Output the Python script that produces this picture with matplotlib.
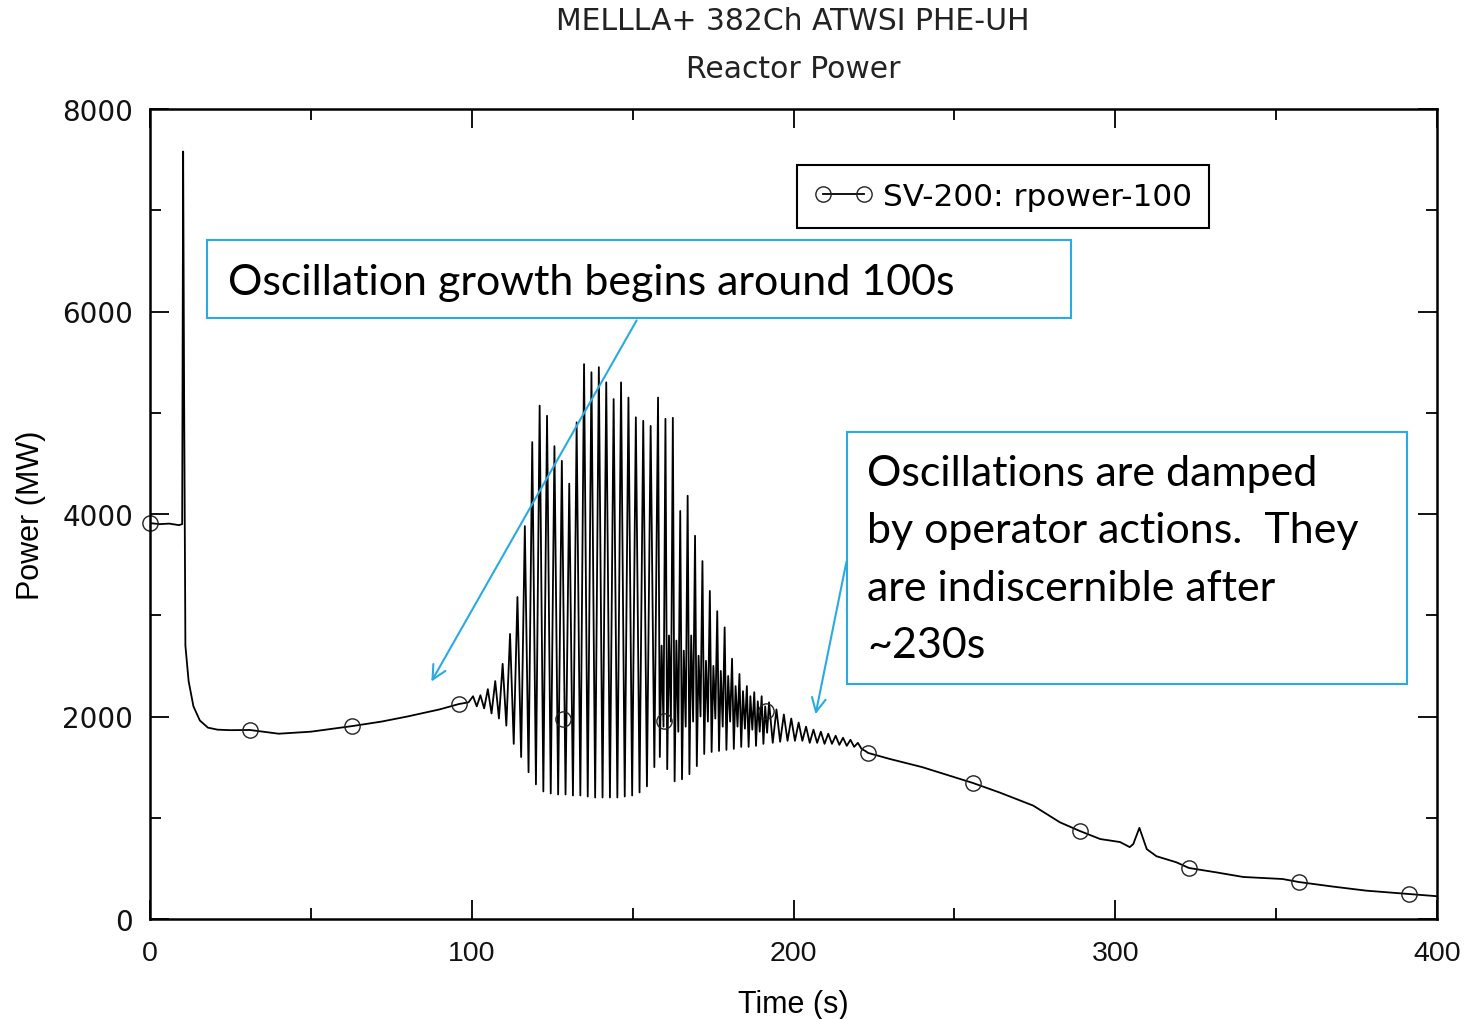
import numpy as np
import matplotlib
matplotlib.use("Agg")
import matplotlib.pyplot as plt
from matplotlib.lines import Line2D
from matplotlib.patches import Rectangle, FancyArrowPatch

# smooth parts of the power trace (time s, power MW)
base_t_pre = [0, 3, 6, 9, 10.0, 10.3, 10.6, 11.0, 12.0, 13.5, 15.5, 18.0, 21.0, 25.0, 31.0,
              40.0, 50.0, 63.0, 72.0, 80.0, 90.0, 96.0, 99.0]
base_p_pre = [3910, 3900, 3905, 3890, 3900, 7580, 5200, 2700, 2350, 2100, 1960, 1890, 1870,
              1865, 1867, 1830, 1850, 1906, 1950, 2000, 2070, 2123, 2140]

# oscillation: peak time, peak value, trough value that follows
peak_t = [100.4, 102.7, 105.0, 107.3, 109.6, 111.9, 114.2, 116.5, 118.8, 121.1, 123.4, 125.7,
          128.0, 130.3, 132.6, 134.9, 137.2, 139.5, 141.8, 144.1, 146.4, 148.7, 151.0, 153.3,
          155.6, 157.9, 160.2, 162.5, 164.8, 167.1, 169.4, 171.7, 174.0, 176.3, 178.6, 180.9,
          183.2, 185.5, 187.8, 190.1, 192.4, 194.7, 197.0, 199.3, 201.6, 203.9, 206.2, 208.5,
          210.8, 213.1, 215.4, 217.7, 220.0]
peak_p = [2200, 2210, 2270, 2350, 2520, 2815, 3180, 3880, 4710, 5070, 4970, 4670,
          4525, 4300, 4905, 5480, 5400, 5450, 5300, 5135, 5300, 5150, 4955, 4920,
          4870, 5150, 4940, 4950, 4030, 4180, 3785, 3535, 3240, 3040, 2880, 2570,
          2420, 2300, 2240, 2200, 2140, 2070, 2020, 1980, 1940, 1900, 1870, 1850,
          1830, 1810, 1790, 1770, 1740]
trough_p = [2100, 2080, 2030, 1980, 1910, 1730, 1600, 1450, 1330, 1260, 1240, 1230,
            1230, 1220, 1220, 1210, 1200, 1200, 1200, 1200, 1210, 1220, 1250, 1310,
            1500, 1600, 1480, 1360, 1380, 1430, 1510, 1630, 1650, 1660, 1670, 1680,
            1700, 1700, 1710, 1730, 1740, 1750, 1760, 1760, 1760, 1740, 1740, 1730,
            1730, 1720, 1710, 1700, 1680]
# secondary (smaller) peaks in the dark band, None where absent
mid_p = [None] * 25 + [2700, 2800, 2750, 2650, 2800, 2600, 2550, 2500, 2450, 2400, 2300,
                       2250, 2200, 2150, 2100] + [None] * 13
mid_trough_p = [None] * 25 + [1900, 1950, 1850, 1900, 1950, 2000, 1950, 1980, 1900, 1950,
                              1900, 1880, 1870, 1850, 1840] + [None] * 13

base_t_post = [222.3, 223.2, 230, 240, 255.8, 264, 274.5, 282.8, 289.0, 295.3, 301.5, 304.5,
               305.6, 307.5, 309.8, 312.8, 319.0, 322.9, 331.5, 339.8, 352.0, 357.1, 367.7,
               378.0, 391.3, 398.0, 400.0]
base_p_post = [1660, 1640, 1580, 1500, 1343, 1250, 1120, 955, 869, 790, 760, 710,
               740, 900, 690, 620, 560, 504, 460, 415, 395, 365, 320,
               280, 247, 230, 225]

marker_t = [0, 31.1, 62.8, 96.0, 128.3, 159.7, 191.5, 223.2, 255.8, 289.0, 322.9, 357.1, 391.3]
marker_p = [3911, 1867, 1906, 2123, 1975, 1956, 2054, 1640, 1343, 869, 504, 365, 247]

t = list(base_t_pre)
p = list(base_p_pre)
for i in range(len(peak_t)):
    t.append(peak_t[i])
    p.append(peak_p[i])
    if mid_p[i] is None:
        t.append(peak_t[i] + 1.15)
        p.append(trough_p[i])
    else:
        t += [peak_t[i] + 0.55, peak_t[i] + 1.1, peak_t[i] + 1.7]
        p += [trough_p[i], mid_p[i], mid_trough_p[i]]
t += base_t_post
p += base_p_post

fig = plt.figure(figsize=(14.72, 10.20), dpi=100)
ax = fig.add_axes([150 / 1472, 1 - 920 / 1020, 1287 / 1472, 810 / 1020])

ax.plot(t, p, color="black", linewidth=1.3)
ax.plot(marker_t, marker_p, linestyle="none", marker="o", markersize=11,
        markerfacecolor="none", markeredgecolor="#222222", markeredgewidth=1.0, clip_on=False)

ax.set_xlim(0, 400)
ax.set_ylim(0, 8000)
ax.set_xticks([0, 100, 200, 300, 400])
ax.set_xticks([50, 150, 250, 350], minor=True)
ax.set_yticks([0, 2000, 4000, 6000, 8000])
ax.set_yticks([1000, 3000, 5000, 7000], minor=True)
ax.tick_params(which="both", direction="in", top=True, right=True, width=1.4, colors="#111111")
ax.tick_params(which="major", length=14)
ax.tick_params(which="minor", length=8)
ax.tick_params(axis="y", labelsize=20, pad=12)
ax.tick_params(axis="x", labelsize=20.5, pad=15)
for s in ax.spines.values():
    s.set_linewidth(1.8)
for lab in ax.get_yticklabels():
    lab.set_fontfamily("DejaVu Sans")
for lab in ax.get_xticklabels():
    lab.set_fontfamily("Liberation Sans")

ax.set_xlabel("Time (s)", fontsize=22, family="Liberation Sans", labelpad=17)
ax.set_ylabel("Power (MW)", fontsize=22, family="Liberation Sans", labelpad=12)

fig.text(793 / 1472, 1 - 22 / 1020, "MELLLA+ 382Ch ATWSI PHE-UH", ha="center", va="center",
         fontsize=21.5, color="#222222")
fig.text(793 / 1472, 1 - 69 / 1020, "Reactor Power", ha="center", va="center",
         fontsize=21.5, color="#222222")

h = Line2D([], [], color="black", linewidth=1.3, marker="o", markersize=11,
           markerfacecolor="none", markeredgecolor="#222222")
leg = ax.legend([h], ["SV-200: rpower-100"], loc="upper right",
                bbox_to_anchor=((1209 - 150) / 1287, (920 - 166) / 810), numpoints=2,
                fontsize=22.5, fancybox=False, framealpha=1, handlelength=1.9,
                borderpad=0.55, handletextpad=0.3, borderaxespad=0)
leg.get_frame().set_edgecolor("black")
leg.get_frame().set_linewidth(1.5)

blue = "#29ABE2"
fig.patches.append(Rectangle((207 / 1472, 1 - 319 / 1020), 864 / 1472, 78 / 1020,
                             transform=fig.transFigure, facecolor="white", edgecolor=blue,
                             linewidth=1.5, zorder=5))
fig.text(228 / 1472, 1 - 283 / 1020, "Oscillation growth begins around 100s", fontsize=31,
         family="Lato", ha="left", va="center", zorder=6)

fig.patches.append(Rectangle((847 / 1472, 1 - 685 / 1020), 560 / 1472, 252 / 1020,
                             transform=fig.transFigure, facecolor="white", edgecolor=blue,
                             linewidth=1.5, zorder=5))
box_lines = ["Oscillations are damped", "by operator actions.  They",
             "are indiscernible after", "~230s"]
for i, line in enumerate(box_lines):
    fig.text(867 / 1472, 1 - (474 + 57.5 * i) / 1020, line, fontsize=31, family="Lato",
             ha="left", va="center", zorder=6)

a1 = FancyArrowPatch((638 / 1472, 1 - 319 / 1020), (430 / 1472, 1 - 685 / 1020),
                     transform=fig.transFigure, arrowstyle="->,head_length=10,head_width=5",
                     color=blue, linewidth=1.5, zorder=7)
a2 = FancyArrowPatch((847 / 1472, 1 - 560 / 1020), (815 / 1472, 1 - 718 / 1020),
                     transform=fig.transFigure, arrowstyle="->,head_length=10,head_width=5",
                     color=blue, linewidth=1.5, zorder=7)
fig.patches.append(a1)
fig.patches.append(a2)

fig.savefig("out.png", dpi=100)
